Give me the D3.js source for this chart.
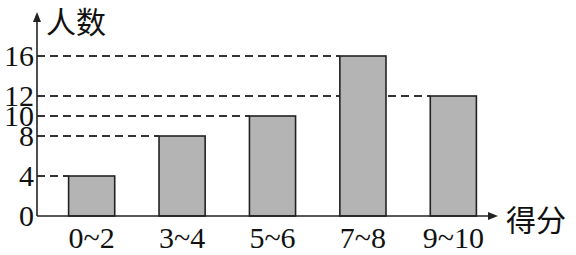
<!DOCTYPE html>
<html><head><meta charset="utf-8">
<script src="https://cdn.jsdelivr.net/npm/d3@7"></script>
<style>body{margin:0;background:#fff}</style>
</head><body>
<svg id="c" width="576" height="255"></svg>
<script>
const categories = ["0~2","3~4","5~6","7~8","9~10"];
const values = [4, 8, 10, 16, 12];
const yTicks = [0, 4, 8, 10, 12, 16];
const yTitle = "人数";
const xTitle = "得分";

const svg = d3.select("#c");
const x0 = 37, yBase = 216;
const x = d3.scaleBand().domain(categories).range([46, 499]).paddingInner(0.49).paddingOuter(0.25);
const y = d3.scaleLinear().domain([0, 16]).range([yBase, 56]);

// dashed guide lines
const guide = categories.map((c,i)=>({c, v: values[i]})).filter(d=>d.v>0);
svg.selectAll("line.dash").data(guide).enter().append("line")
  .attr("x1", x0).attr("x2", d=>x(d.c))
  .attr("y1", d=>y(d.v)).attr("y2", d=>y(d.v))
  .attr("stroke", "#333").attr("stroke-width", 1.8).attr("stroke-dasharray", "8,5");

// bars
svg.selectAll("rect.bar").data(guide).enter().append("rect")
  .attr("x", d=>x(d.c)).attr("width", x.bandwidth())
  .attr("y", d=>y(d.v)).attr("height", d=>yBase - y(d.v))
  .attr("fill", "#b4b4b4").attr("stroke", "#222").attr("stroke-width", 1.6);

// axes lines with arrows
svg.append("line").attr("x1", x0).attr("x2", x0).attr("y1", yBase).attr("y2", 16)
  .attr("stroke", "#222").attr("stroke-width", 1.6);
svg.append("path").attr("d", `M${x0},12 L${x0-4},22 L${x0+4},22 Z`).attr("fill", "#222");
svg.append("line").attr("x1", x0).attr("x2", 494).attr("y1", yBase).attr("y2", yBase)
  .attr("stroke", "#222").attr("stroke-width", 1.6);
svg.append("path").attr("d", `M498,${yBase} L488,${yBase-4} L488,${yBase+4} Z`).attr("fill", "#222");

// y tick labels
svg.selectAll("text.yt").data(yTicks).enter().append("text")
  .style("font-family", '"Liberation Serif"').attr("font-size", 30)
  .attr("x", 34).attr("y", d=>y(d)).attr("dy", "0.33em")
  .attr("text-anchor", "end").attr("fill", "#111").text(d=>String(d));

// x labels
svg.selectAll("text.xt").data(categories).enter().append("text")
  .style("font-family", '"Liberation Serif"').attr("font-size", 30)
  .attr("x", d=>x(d)+x.bandwidth()/2).attr("y", 248)
  .attr("text-anchor", "middle").attr("fill", "#111").text(d=>d);

// titles
svg.append("text").style("font-family", '"Noto Sans CJK SC"').attr("font-size", 30)
  .attr("x", 46).attr("y", 33).attr("fill", "#111").text(yTitle);
svg.append("text").style("font-family", '"Noto Sans CJK SC"').attr("font-size", 30)
  .attr("x", 506).attr("y", 231).attr("fill", "#111").text(xTitle);
</script>
</body></html>
